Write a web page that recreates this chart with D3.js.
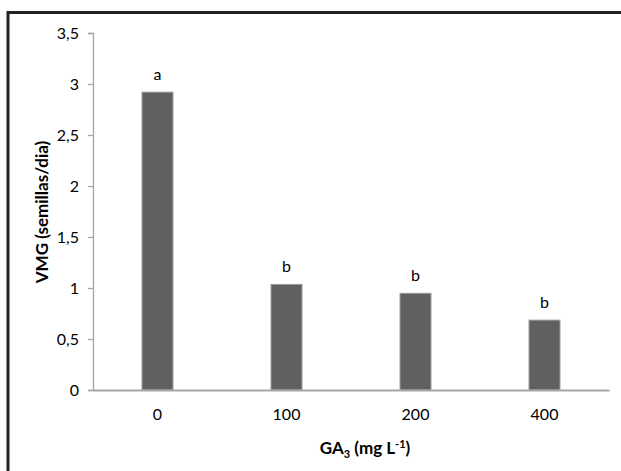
<!DOCTYPE html>
<html><head><meta charset="utf-8">
<script src="https://cdn.jsdelivr.net/npm/d3@7"></script>
<style>body{margin:0;background:#fff}svg{display:block}text{font-family:Lato,"Open Sans",sans-serif}</style>
</head><body>
<svg id="c" width="621" height="471"></svg>
<script>
const categories = ["0","100","200","400"];
const values = [2.92, 1.035, 0.948, 0.685];
const letters = ["a","b","b","b"];
const yTicks = [0,0.5,1,1.5,2,2.5,3,3.5];
const yTickLabels = ["0","0,5","1","1,5","2","2,5","3","3,5"];

const svg = d3.select("#c");
// frame
svg.append("rect").attr("x",8).attr("y",12.5).attr("width",640).attr("height",500)
  .attr("fill","none").attr("stroke","#222").attr("stroke-width",3);

const x0=93, x1=609, yTop=33, yBot=390;
const x = d3.scaleBand().domain(categories).range([x0,x1]).padding(0);
const y = d3.scaleLinear().domain([0,3.5]).range([yBot,yTop]);
const barW = x.bandwidth()*0.24;

const yAxis = d3.axisLeft(y).tickValues(yTicks).tickSize(5).tickPadding(9)
  .tickFormat((d,i)=>yTickLabels[i]);
const gy = svg.append("g").attr("transform",`translate(${x0},0)`).call(yAxis);
gy.select(".domain").attr("stroke","#a6a6a6").attr("stroke-width",1.3);
gy.selectAll(".tick line").attr("stroke","#a6a6a6").attr("stroke-width",1.3);
gy.selectAll(".tick text").attr("font-size",16).attr("fill","#000").style("font-family","Lato");

// bars
svg.selectAll("rect.bar").data(values).enter().append("rect").attr("class","bar")
  .attr("x",(d,i)=>x(categories[i])+x.bandwidth()/2-barW/2)
  .attr("width",barW)
  .attr("y",d=>y(d)).attr("height",d=>yBot-y(d))
  .attr("fill","#606060").attr("stroke","#9a9a9a").attr("stroke-width",1);

const xAxis = d3.axisBottom(x).tickSize(0).tickPadding(19);
const gx = svg.append("g").attr("transform",`translate(0,${yBot})`).call(xAxis);
gx.select(".domain").attr("stroke","#a6a6a6").attr("stroke-width",2);
gx.selectAll(".tick text").attr("font-size",16).attr("fill","#000").style("font-family","Lato");

// letters
svg.selectAll("text.lbl").data(values).enter().append("text").attr("class","lbl")
  .attr("x",(d,i)=>x(categories[i])+x.bandwidth()/2)
  .attr("y",d=>y(d)-12)
  .attr("text-anchor","middle").attr("font-size",16).text((d,i)=>letters[i]);

// x title
const xt = svg.append("text").attr("x",365).attr("y",454).attr("text-anchor","middle")
  .attr("font-size",17).attr("font-weight","bold");
xt.append("tspan").text("GA");
xt.append("tspan").attr("font-size",11).attr("dy",4).text("3");
xt.append("tspan").attr("dy",-4).text(" (mg L");
xt.append("tspan").attr("font-size",11).attr("dy",-6).text("-1");
xt.append("tspan").attr("dy",6).text(")");

// y title
svg.append("text").attr("transform","translate(48,212) rotate(-90)")
  .attr("text-anchor","middle").attr("font-size",17).attr("font-weight","bold")
  .text("VMG (semillas/dia)");
</script>
</body></html>
